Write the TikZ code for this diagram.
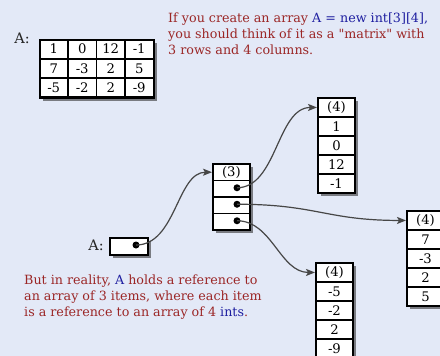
\documentclass[tikz,border=0pt]{standalone}
\usepackage{fontspec}
\setmainfont{DejaVu Serif}[Ligatures=TeXOff]
\usetikzlibrary{arrows.meta,shadows}
\definecolor{bg}{RGB}{227,233,247}
\definecolor{txtred}{RGB}{155,38,38}
\definecolor{txtblue}{RGB}{30,30,160}
\definecolor{conn}{RGB}{70,70,70}
\newcommand{\cellfont}{\fontsize{13.2}{14}\selectfont}
\newcommand{\bodyfont}{\fontsize{12.7}{16}\selectfont}
\begin{document}
\begin{tikzpicture}[x=1pt,y=-1pt,
  frame/.style={draw=black, line width=2.2pt, fill=white, inner sep=0pt, anchor=north west,
    drop shadow={shadow xshift=3pt, shadow yshift=-3pt, opacity=0.6, fill=black!80}},
  cell/.style={draw=black, line width=1.9pt, inner sep=0pt, anchor=north west, font=\cellfont},
  vcell/.style={cell, minimum width=37pt, minimum height=19pt},
  mcell/.style={cell, minimum width=28.5pt, minimum height=19.3pt},
  rcell/.style={cell, minimum width=37pt, minimum height=16.5pt},
  dotmark/.style={circle, fill=black, inner sep=0pt, minimum size=7pt},
  lbl/.style={font=\fontsize{14.5}{15}\selectfont, text=black!85, inner sep=0pt},
  txt/.style={font=\bodyfont, text=txtred, align=left, inner sep=0pt, anchor=north west},
  conn/.style={draw=conn, line width=1.2pt, -{Stealth[length=9pt, width=7pt, inset=2pt]}}
]
\useasboundingbox (0,0) rectangle (440,356);
\clip (0,0) rectangle (440,356);
\fill[bg] (0,0) rectangle (440,356);

% matrix
\node[lbl] (mA) at (22,38) {A:};
\node[frame, minimum width=114pt, minimum height=58pt] (mat) at (38.5,38.5) {};
\foreach \v [count=\i from 0] in {1,0,12,-1}
  \node[mcell] (m1\i) at ({38.5+28.5*\i},38.5) {\v};
\foreach \v [count=\i from 0] in {7,-3,2,5}
  \node[mcell] (m2\i) at ({38.5+28.5*\i},57.8) {\v};
\foreach \v [count=\i from 0] in {-5,-2,2,-9}
  \node[mcell] (m3\i) at ({38.5+28.5*\i},77.1) {\v};

% texts
\node[txt] (toptext) at (168,12.5) {If you create an array \textcolor{txtblue}{A = new int[3][4],}\\you should think of it as a "matrix" with\\3 rows and 4 columns.};
\node[txt, font=\fontsize{12.7}{15.7}\selectfont] (bottext) at (24,275) {But in reality, \textcolor{txtblue}{A} holds a reference to\\an array of 3 items, where each item\\is a reference to an array of 4 \textcolor{txtblue}{ints}.};

% A variable
\node[lbl] (vA) at (96,245) {A:};
\node[frame, minimum width=38pt, minimum height=17pt] (abox) at (109,236.5) {};
\node[dotmark] (ad) at (136,245) {};

% array of 3
\node[frame, minimum width=37pt, minimum height=66pt] (r) at (212,163) {};
\node[rcell] (rh) at (212,163) {(3)};
\node[rcell] (r1) at (212,179.5) {};
\node[rcell] (r2) at (212,196) {};
\node[rcell] (r3) at (212,212.5) {};
\node[dotmark] (d1) at (237,187.75) {};
\node[dotmark] (d2) at (237,204.25) {};
\node[dotmark] (d3) at (237,220.75) {};

% top array of 4
\node[frame, minimum width=37pt, minimum height=95pt] (ta) at (317,97) {};
\node[vcell] (th) at (317,97) {(4)};
\foreach \v [count=\i] in {1,0,12,-1}
  \node[vcell] (t\i) at (317,{97+19*\i}) {\v};

% right array of 4
\node[frame, minimum width=37pt, minimum height=95pt] (ra) at (406,210) {};
\node[vcell] (qh) at (406,210) {(4)};
\foreach \v [count=\i] in {7,-3,2,5}
  \node[vcell] (q\i) at (406,{210+19*\i}) {\v};

% bottom array of 4
\node[frame, minimum width=37pt, minimum height=95pt] (ba) at (315,262) {};
\node[vcell] (bh) at (315,262) {(4)};
\foreach \v [count=\i] in {-5,-2,2,-9}
  \node[vcell] (b\i) at (315,{262+19*\i}) {\v};

% connectors
\draw[conn] (ad.center) .. controls +(40,0) and +(-35,0) .. (rh.west);
\draw[conn] (d1.center) .. controls +(40,0) and +(-40,0) .. (th.west);
\draw[conn] (d2.center) .. controls +(80,0) and +(-80,0) .. (qh.west);
\draw[conn] (d3.center) .. controls +(35,0) and +(-35,0) .. (bh.west);
\end{tikzpicture}
\end{document}
